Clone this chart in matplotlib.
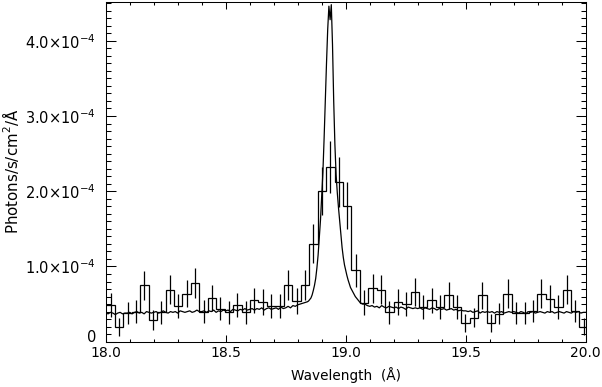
import matplotlib
matplotlib.use("Agg")
import matplotlib.pyplot as plt
import numpy as np

# binned spectrum (units of 1e-4 photons/s/cm2/A)
bin_start = 18.003
bin_width = 0.0352
bin_flux = [0.49, 0.19, 0.38, 0.40, 0.75, 0.29, 0.39, 0.69, 0.48, 0.64,
            0.78, 0.40, 0.58, 0.44, 0.39, 0.49, 0.39, 0.55, 0.53, 0.48,
            0.48, 0.75, 0.54, 0.75, 1.30, 2.00, 2.32, 2.12, 1.81, 0.95,
            0.52, 0.71, 0.69, 0.39, 0.53, 0.50, 0.66, 0.46, 0.55, 0.46,
            0.62, 0.46, 0.25, 0.32, 0.62, 0.25, 0.37, 0.64, 0.38, 0.38,
            0.41, 0.64, 0.57, 0.46, 0.69, 0.41, 0.20]
bin_err = [0.16, 0.12, 0.15, 0.15, 0.19, 0.13, 0.15, 0.19, 0.16, 0.18,
           0.20, 0.15, 0.17, 0.15, 0.15, 0.16, 0.15, 0.17, 0.17, 0.16,
           0.16, 0.20, 0.17, 0.20, 0.26, 0.32, 0.35, 0.33, 0.31, 0.22,
           0.17, 0.19, 0.19, 0.15, 0.17, 0.16, 0.19, 0.16, 0.17, 0.16,
           0.18, 0.16, 0.12, 0.13, 0.18, 0.12, 0.14, 0.19, 0.15, 0.15,
           0.15, 0.19, 0.18, 0.16, 0.19, 0.15, 0.11]

# high resolution spectrum, three sampling pieces
wave_left = np.linspace(18.0, 18.84, 85)
flux_left = [0.38, 0.37, 0.39, 0.38, 0.36, 0.38, 0.39, 0.37, 0.38, 0.38,
             0.39, 0.37, 0.39, 0.40, 0.38, 0.39, 0.37, 0.40, 0.39, 0.38,
             0.39, 0.40, 0.38, 0.39, 0.41, 0.39, 0.38, 0.40, 0.39, 0.40,
             0.38, 0.41, 0.40, 0.39, 0.40, 0.41, 0.39, 0.40, 0.42, 0.40,
             0.40, 0.41, 0.39, 0.41, 0.40, 0.42, 0.39, 0.41, 0.40, 0.42,
             0.41, 0.42, 0.40, 0.43, 0.42, 0.41, 0.43, 0.42, 0.44, 0.42,
             0.43, 0.44, 0.42, 0.44, 0.43, 0.45, 0.42, 0.44, 0.45, 0.43,
             0.44, 0.45, 0.43, 0.46, 0.44, 0.45, 0.47, 0.45, 0.48, 0.47,
             0.49, 0.50, 0.51, 0.52, 0.53]
wave_peak = np.linspace(18.845, 19.05, 42)
flux_peak = [0.54, 0.56, 0.58, 0.62, 0.68, 0.75, 0.84, 0.98, 1.15, 1.38,
             1.62, 1.95, 2.25, 2.70, 3.20, 3.70, 4.15, 4.46, 4.28, 4.48,
             3.95, 3.20, 2.62, 2.22, 1.98, 1.78, 1.60, 1.42, 1.25, 1.12,
             1.02, 0.95, 0.88, 0.82, 0.77, 0.72, 0.69, 0.66, 0.63, 0.60,
             0.58, 0.56]
wave_right = np.linspace(19.06, 20.0, 95)
flux_right = [0.52, 0.50, 0.50, 0.48,
              0.47, 0.48, 0.46, 0.47, 0.45, 0.48, 0.46, 0.45, 0.47, 0.46,
              0.45, 0.46, 0.44, 0.46, 0.45, 0.43, 0.46, 0.45, 0.44, 0.45,
              0.44, 0.45, 0.43, 0.45, 0.44, 0.43, 0.45, 0.44, 0.42, 0.44,
              0.43, 0.44, 0.42, 0.43, 0.44, 0.42, 0.43, 0.41, 0.42, 0.41,
              0.41, 0.40, 0.41, 0.39, 0.40, 0.41, 0.38, 0.40, 0.39, 0.40,
              0.39, 0.40, 0.38, 0.40, 0.39, 0.40, 0.38, 0.39, 0.40, 0.39,
              0.40, 0.39, 0.38, 0.40, 0.39, 0.37, 0.40, 0.39, 0.40, 0.38,
              0.39, 0.40, 0.39, 0.38, 0.40, 0.39, 0.40, 0.38, 0.39, 0.40,
              0.39, 0.38, 0.40, 0.39, 0.38, 0.40, 0.39, 0.40, 0.38, 0.39, 0.39]

y_ticks = [0, 1.0e-4, 2.0e-4, 3.0e-4, 4.0e-4]
y_labels = ["0", "1.0×10$^{-4}$", "2.0×10$^{-4}$",
            "3.0×10$^{-4}$", "4.0×10$^{-4}$"]
x_ticks = [18.0, 18.5, 19.0, 19.5, 20.0]
x_labels = ["18.0", "18.5", "19.0", "19.5", "20.0"]

plt.rcParams["font.family"] = ["DejaVu Sans"]
plt.rcParams["mathtext.default"] = "regular"

scale = 1e-4
edges = bin_start + bin_width * np.arange(len(bin_flux) + 1)
centers = edges[:-1] + bin_width / 2
wave_fine = np.concatenate([wave_left, wave_peak, wave_right])
flux_fine = np.concatenate([flux_left, flux_peak, flux_right]) * scale

fig = plt.figure(figsize=(6.02, 3.87), dpi=100)
ax = fig.add_axes([0.1756, 0.1171, 0.7973, 0.8786])

ax.stairs(np.array(bin_flux) * scale, edges, baseline=None, color="black", lw=0.9)
ax.vlines(centers, (np.array(bin_flux) - bin_err) * scale,
          (np.array(bin_flux) + bin_err) * scale, color="black", lw=0.9)
ax.plot(wave_fine, flux_fine, color="black", lw=0.9)

ax.set_xlim(18.0, 20.0)
ax.set_ylim(0, 4.52e-4)
ax.set_xticks(x_ticks, x_labels, fontsize=10)
ax.set_yticks(y_ticks, y_labels, fontsize=10.5, va="center_baseline")
ax.get_yticklabels()[0].set_va("baseline")  # the zero sits just above the x labels
ax.xaxis.set_minor_locator(matplotlib.ticker.MultipleLocator(0.1))
ax.yaxis.set_minor_locator(matplotlib.ticker.MultipleLocator(1e-5))
ax.tick_params(which="both", direction="in", top=True, right=True, width=0.75)
ax.tick_params(axis="x", which="major", length=4.9, pad=3)
ax.tick_params(axis="x", which="minor", length=2.5)
ax.tick_params(axis="y", which="major", length=6.9, pad=7)
ax.tick_params(axis="y", which="minor", length=3.5)
for s in ax.spines.values():
    s.set_linewidth(0.75)

ax.set_xlabel("Wavelength  (Å)", fontsize=9.8, va="center")
ax.xaxis.set_label_coords(0.5, -0.098)
ax.set_ylabel(r"Photons/s/cm$^2$/Å", fontsize=10.8, va="center")
ax.yaxis.set_label_coords(-0.199, 0.5)

fig.savefig("out.png", dpi=100)
